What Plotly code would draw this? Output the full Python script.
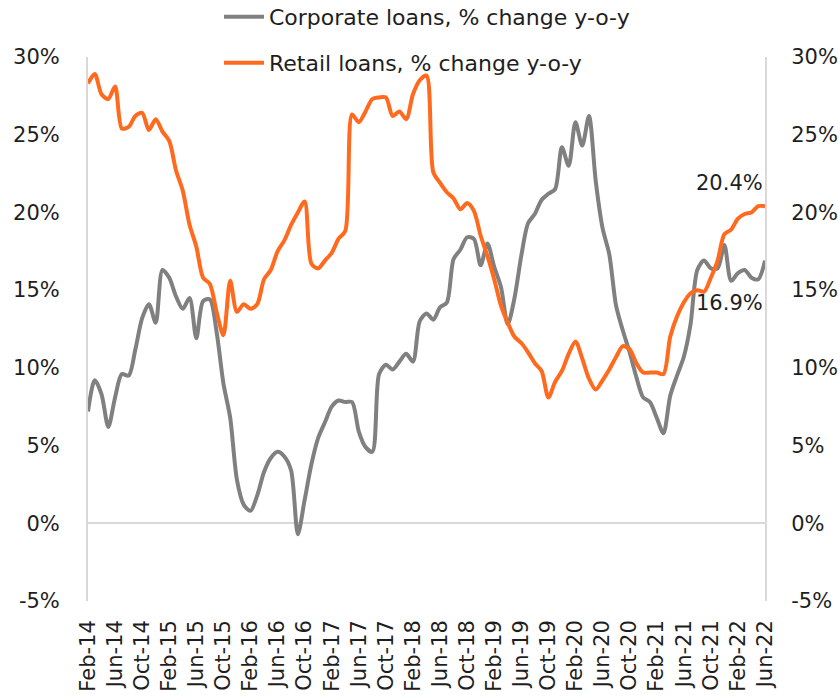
import pandas as pd
import plotly.graph_objects as go

# Monthly observations, Feb-2014 .. Jun-2022
months = pd.date_range("2014-02-01", periods=101, freq="MS").strftime("%b-%y").tolist()

corporate_yoy = [
    7.2, 9.2, 8.3, 6.2, 8.1, 9.6, 9.5, 11.2, 13.2, 14.1,
    12.9, 16.3, 15.8, 14.6, 13.8, 14.5, 11.9, 14.3, 14.4, 12.3,
    9.0, 6.8, 2.8, 1.2, 0.8, 1.8, 3.3, 4.2, 4.6, 4.3,
    3.4, -0.7, 1.5, 3.8, 5.5, 6.5, 7.5, 7.9, 7.8, 7.8,
    5.9, 4.9, 4.6, 9.6, 10.2, 9.9, 10.4, 10.9, 10.4, 13.0,
    13.5, 13.1, 13.9, 14.2, 17.0, 17.6, 18.4, 18.3, 16.6, 18.0,
    16.5, 15.2, 12.8, 14.5, 17.2, 19.3, 19.9, 20.8, 21.2, 21.5,
    24.2, 23.0, 25.8, 24.3, 26.2, 22.0, 19.0, 17.3, 14.0, 12.4,
    11.0, 9.4, 8.1, 7.8, 6.8, 5.8, 8.2, 9.5, 10.7, 12.8,
    16.3, 16.9, 16.4, 16.4, 17.9, 15.6, 16.1, 16.3, 15.8, 15.7,
    16.9,
]

retail_yoy = [
    28.3, 28.9, 27.6, 27.3, 28.1, 25.4, 25.5, 26.2, 26.4, 25.3,
    26.0, 25.2, 24.6, 22.7, 21.4, 19.2, 17.8, 15.8, 15.4, 13.6,
    12.1, 15.6, 13.6, 14.1, 13.8, 14.1, 15.7, 16.3, 17.5, 18.2,
    19.2, 20.0, 20.7, 16.7, 16.4, 16.9, 17.4, 18.3, 18.8, 26.3,
    25.8, 26.5, 27.3, 27.4, 27.4, 26.2, 26.5, 26.0, 27.6, 28.5,
    28.8, 22.6, 21.9, 21.3, 20.9, 20.2, 20.6, 20.1, 18.5, 17.2,
    15.7, 14.0, 12.9, 12.0, 11.6, 11.0, 10.3, 9.8, 8.1, 9.1,
    9.8, 10.9, 11.7, 10.6, 9.3, 8.6, 9.2, 9.9, 10.7, 11.4,
    11.2, 10.3, 9.7, 9.7, 9.7, 9.6, 12.0, 13.3, 14.2, 14.8,
    15.0, 14.9, 15.8, 16.9, 18.6, 18.9, 19.6, 19.9, 20.0, 20.4,
    20.4,
]

series_names = ["Corporate loans, % change y-o-y", "Retail loans, % change y-o-y"]
tick_labels = months[::4]
y_ticks = [-5, 0, 5, 10, 15, 20, 25, 30]
y_tick_text = [f"{v}%" for v in y_ticks]

GREY = "#808080"
ORANGE = "#FF6A1F"
AXIS = "#D9D9D9"
TEXT = "#1E1E1E"
FONT = "DejaVu Sans"
FS = 21

fig = go.Figure()
fig.add_trace(go.Scatter(
    x=months, y=corporate_yoy, name=series_names[0], mode="lines",
    line=dict(color=GREY, width=4, shape="spline", smoothing=0.8),
    legend="legend", yaxis="y",
))
# Retail series on the secondary (right) axis, same scale
fig.add_trace(go.Scatter(
    x=months, y=retail_yoy, name=series_names[1], mode="lines",
    line=dict(color=ORANGE, width=4, shape="spline", smoothing=0.8),
    legend="legend2", yaxis="y2",
))

# End-of-period value labels
fig.add_annotation(x=months[-1], y=retail_yoy[-1], yref="y2", text=f"{retail_yoy[-1]:.1f}%",
                   showarrow=False, xanchor="right", yanchor="middle", yshift=23,
                   font=dict(family=FONT, size=FS, color=TEXT))
fig.add_annotation(x=months[-1], y=corporate_yoy[-1], yref="y", text=f"{corporate_yoy[-1]:.1f}%",
                   showarrow=False, xanchor="right", yanchor="middle", yshift=-42,
                   font=dict(family=FONT, size=FS, color=TEXT))

legend_common = dict(
    orientation="v", xref="container", yref="container",
    xanchor="left", yanchor="middle", bgcolor="rgba(0,0,0,0)",
    font=dict(family=FONT, size=22, color=TEXT), itemwidth=40,
)

fig.update_layout(
    width=840, height=700,
    margin=dict(l=88, r=75, t=57, b=99, autoexpand=False),
    plot_bgcolor="white", paper_bgcolor="white",
    font=dict(family=FONT, size=FS, color=TEXT),
    showlegend=True,
    legend=dict(x=219 / 840, y=1 - 17 / 700, **legend_common),
    legend2=dict(x=219 / 840, y=1 - 63 / 700, **legend_common),
    xaxis=dict(
        type="category", range=[0, len(months) - 1], automargin=False,
        tickmode="array", tickvals=tick_labels, ticktext=tick_labels,
        tickangle=-90, showgrid=False, showline=False, zeroline=False,
        ticks="", ticklabelstandoff=14,
        tickfont=dict(family=FONT, size=FS, color=TEXT),
    ),
    yaxis=dict(
        range=[-5, 30], tickmode="array", tickvals=y_ticks, ticktext=y_tick_text,
        showgrid=False, automargin=False,
        showline=True, linecolor=AXIS, linewidth=2,
        zeroline=True, zerolinecolor=AXIS, zerolinewidth=2,
        ticks="", ticklabelstandoff=22,
        tickfont=dict(family=FONT, size=FS, color=TEXT),
    ),
    yaxis2=dict(
        range=[-5, 30], tickmode="array", tickvals=y_ticks, ticktext=y_tick_text,
        overlaying="y", side="right", automargin=False,
        showgrid=False, showline=True, linecolor=AXIS, linewidth=2,
        zeroline=False, ticks="", ticklabelstandoff=20,
        tickfont=dict(family=FONT, size=FS, color=TEXT),
    ),
)

fig.write_html("out.html")
